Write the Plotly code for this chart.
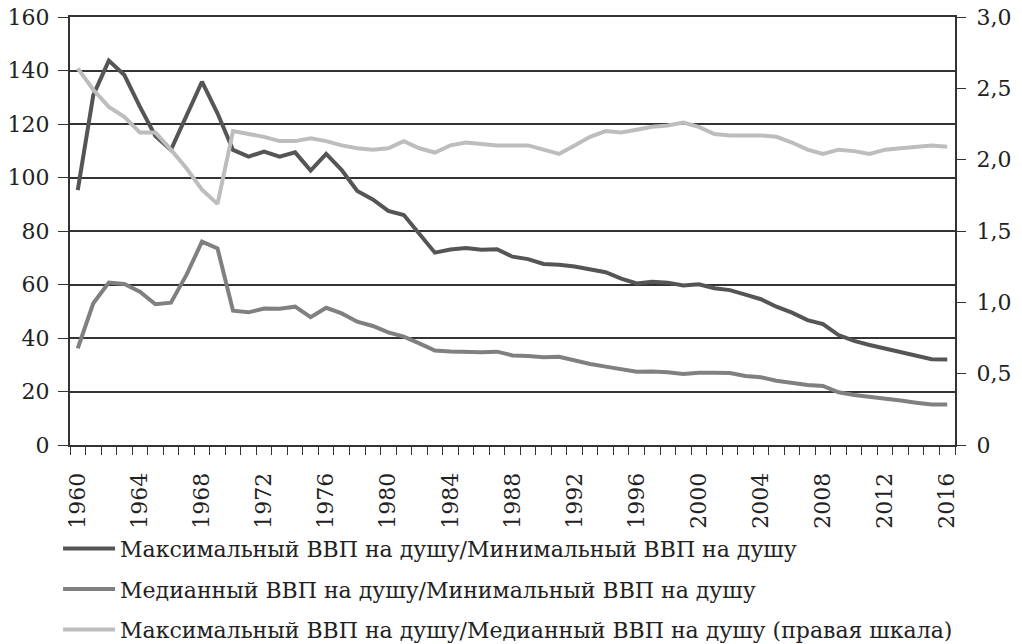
import plotly.graph_objects as go

years = list(range(1960, 2017))

max_min = [95.3, 130.8, 143.7, 138.3, 126.5, 115.5, 110.3, 122.7, 135.8, 124.0,
           110.3, 107.8, 109.7, 107.8, 109.4, 102.6, 108.8, 102.8, 95.0, 91.8,
           87.5, 86.0, 79.1, 71.9, 73.1, 73.6, 73.0, 73.2, 70.4, 69.5,
           67.7, 67.4, 66.7, 65.8, 64.6, 62.2, 60.4, 61.0, 60.7, 59.6,
           60.1, 58.6, 57.9, 56.2, 54.5, 51.7, 49.5, 46.7, 45.2, 41.1,
           38.9, 37.4, 36.1, 34.9, 33.4, 32.1, 32.0]

med_min = [36.1, 53.0, 60.7, 60.2, 57.3, 52.6, 53.2, 63.6, 76.0, 73.5,
           50.2, 49.6, 51.0, 50.9, 51.7, 47.8, 51.3, 49.2, 46.1, 44.5,
           42.1, 40.5, 38.0, 35.3, 35.0, 34.8, 34.7, 34.9, 33.5, 33.3,
           32.8, 33.0, 31.5, 30.3, 29.3, 28.4, 27.4, 27.5, 27.2, 26.5,
           27.0, 27.0, 26.9, 25.8, 25.3, 24.0, 23.3, 22.4, 22.1, 19.7,
           18.7, 18.1, 17.3, 16.6, 15.8, 15.1, 15.1]

max_med = [2.64, 2.49, 2.37, 2.30, 2.19, 2.19, 2.07, 1.94, 1.79, 1.69,
           2.20, 2.18, 2.16, 2.13, 2.13, 2.15, 2.13, 2.10, 2.08, 2.07,
           2.08, 2.13, 2.08, 2.05, 2.10, 2.12, 2.11, 2.10, 2.10, 2.10,
           2.07, 2.04, 2.10, 2.16, 2.20, 2.19, 2.21, 2.23, 2.24, 2.26,
           2.23, 2.18, 2.17, 2.17, 2.17, 2.16, 2.12, 2.07, 2.04, 2.07,
           2.06, 2.04, 2.07, 2.08, 2.09, 2.10, 2.09]

names = [
    "Максимальный ВВП на душу/Минимальный ВВП на душу",
    "Медианный ВВП на душу/Минимальный ВВП на душу",
    "Максимальный ВВП на душу/Медианный ВВП на душу (правая шкала)",
]
colors = ["#555555", "#808080", "#bdbdbd"]

left_ticks = [0, 20, 40, 60, 80, 100, 120, 140, 160]
right_ticks = [0, 0.5, 1.0, 1.5, 2.0, 2.5, 3.0]
right_text = ["0", "0,5", "1,0", "1,5", "2,0", "2,5", "3,0"]
x_ticks = list(range(1960, 2017, 4))
x_range = [1959.5, 2016.5]

FONT = "DejaVu Serif"
AX = "#333333"
TXT = "#222222"

fig = go.Figure()
fig.add_trace(go.Scatter(x=years, y=max_min, name=names[0], mode="lines",
                         line=dict(color=colors[0], width=4), legendgroup="a"))
fig.add_trace(go.Scatter(x=years, y=med_min, name=names[1], mode="lines",
                         line=dict(color=colors[1], width=4), legendgroup="b"))
fig.add_trace(go.Scatter(x=years, y=max_med, name=names[2], mode="lines",
                         line=dict(color=colors[2], width=4), legendgroup="c",
                         yaxis="y2"))

tickfont = dict(family=FONT, size=22, color=TXT)

fig.update_layout(
    width=1022, height=644,
    margin=dict(l=70, r=67, t=17, b=199, autoexpand=False),
    paper_bgcolor="white", plot_bgcolor="white",
    font=dict(family=FONT, size=22, color=TXT),
    showlegend=True,
    legend=dict(orientation="v", x=-0.0135, y=-0.193, xanchor="left", yanchor="top",
                traceorder="grouped", tracegroupgap=9, itemwidth=52,
                font=dict(family=FONT, size=22, color=TXT)),
    xaxis=dict(range=x_range, tickvals=x_ticks,
               ticktext=[str(v) for v in x_ticks], tickangle=-90,
               tickfont=tickfont, automargin=False,
               ticks="outside", ticklen=9, tickcolor="rgba(0,0,0,0)",
               ticklabelstandoff=8,
               showgrid=False, zeroline=False, mirror=True,
               showline=True, linecolor=AX, linewidth=2),
    xaxis2=dict(range=x_range, overlaying="x", anchor="y", side="bottom",
                tickmode="linear", tick0=1959.5, dtick=1,
                ticks="outside", ticklen=9, tickcolor=AX, tickwidth=1.2,
                showticklabels=False, showgrid=False, zeroline=False,
                showline=False, automargin=False),
    yaxis=dict(range=[0, 160], tickvals=left_ticks,
               ticktext=[str(v) for v in left_ticks],
               tickfont=tickfont, automargin=False, ticklabeloverflow="allow",
               ticks="outside", ticklen=10, tickcolor=AX, tickwidth=1.2,
               ticklabelstandoff=4,
               showgrid=True, gridcolor=AX, gridwidth=1.5,
               zeroline=False, showline=True, linecolor=AX, linewidth=2),
    yaxis2=dict(range=[0, 3], tickvals=right_ticks, ticktext=right_text,
                overlaying="y", side="right", anchor="x",
                tickfont=tickfont, automargin=False, ticklabeloverflow="allow",
                ticks="outside", ticklen=9, tickcolor=AX, tickwidth=1.2,
                ticklabelstandoff=6,
                showgrid=False, zeroline=False,
                showline=True, linecolor=AX, linewidth=2),
)

# invisible trace to activate the overlaying x axis carrying the yearly ticks
fig.add_trace(go.Scatter(x=x_range, y=[None, None], xaxis="x2", mode="lines",
                         showlegend=False, hoverinfo="skip"))

# remove the default page margin so the figure fills the window exactly
fig.write_html("out.html",
               config={"displayModeBar": False},
               post_script="document.body.style.margin='0';"
                           "document.body.style.overflow='hidden';")
